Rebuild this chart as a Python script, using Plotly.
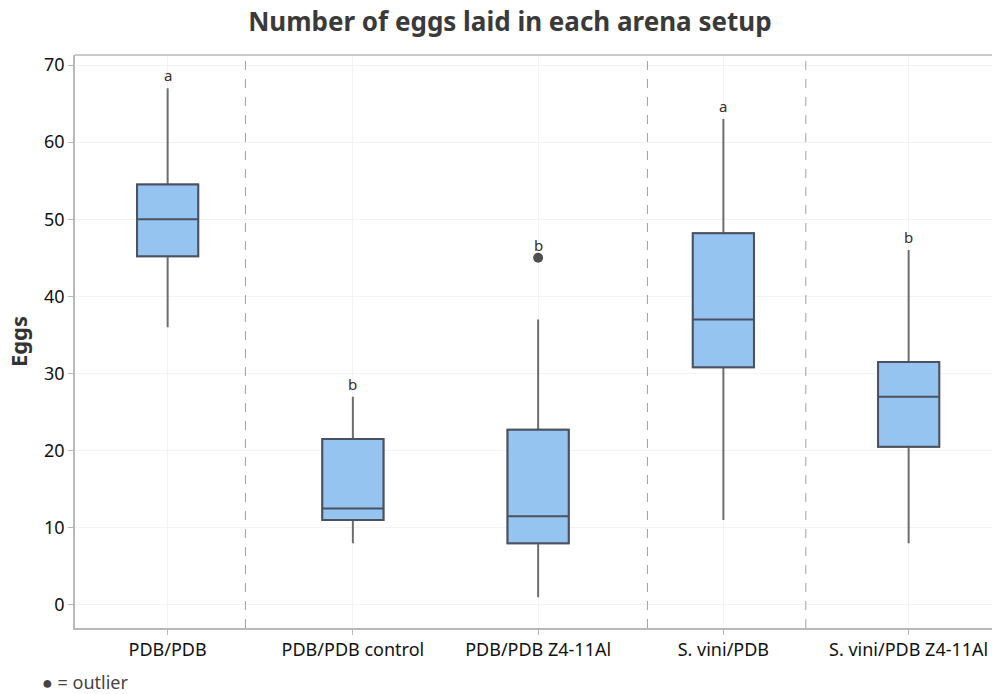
import plotly.graph_objects as go

categories = ["PDB/PDB", "PDB/PDB control", "PDB/PDB Z4-11Al", "S. vini/PDB", "S. vini/PDB Z4-11Al"]
lower_whisker = [36, 8, 1, 11, 8]
q1 = [45.2, 11, 8, 30.8, 20.5]
median = [50, 12.5, 11.5, 37, 27]
q3 = [54.5, 21.5, 22.7, 48.2, 31.5]
upper_whisker = [67, 27, 37, 63, 46]
outlier_cat = ["PDB/PDB Z4-11Al"]
outlier_val = [45]
letters = ["a", "b", "b", "a", "b"]
letter_base = [67, 27, 45, 63, 46]
separators = [0.42, 2.59, 3.445]

fig = go.Figure()
# whiskers (lighter grey)
fig.add_trace(go.Box(
    x=categories, q1=q1, median=median, q3=q3,
    lowerfence=lower_whisker, upperfence=upper_whisker,
    fillcolor="#94C4EF", line=dict(color="#6e6e6e", width=2),
    whiskerwidth=0, width=0.33, boxpoints=False, showlegend=False,
    hoverinfo="skip"))
# boxes (darker outline)
fig.add_trace(go.Box(
    x=categories, q1=q1, median=median, q3=q3,
    lowerfence=q1, upperfence=q3,
    fillcolor="#94C4EF", line=dict(color="#4b5160", width=2),
    whiskerwidth=0, width=0.33, boxpoints=False, showlegend=False,
    hoverinfo="skip"))
fig.add_trace(go.Scatter(
    x=outlier_cat, y=outlier_val, mode="markers",
    marker=dict(color="#505050", size=10), showlegend=False))

for c, l, b in zip(categories, letters, letter_base):
    fig.add_annotation(x=c, y=b, text=l, showarrow=False, yanchor="bottom",
                       yshift=1, font=dict(size=15, color="#3a2a2a", family="Noto Sans"))

for s in separators:
    fig.add_shape(type="line", xref="x", yref="paper", x0=s, x1=s, y0=0, y1=1,
                  line=dict(color="#a0a0a0", width=1, dash="dash"))
fig.add_shape(type="line", xref="paper", yref="paper", x0=0, x1=1, y0=1, y1=1,
              line=dict(color="#b8b8b8", width=1.5))

fig.add_annotation(xref="paper", yref="paper", x=-0.038, y=-0.094, xanchor="left",
                   yanchor="middle", showarrow=False, text="● = outlier",
                   font=dict(size=18, color="#444", family="Noto Sans"))

fig.update_layout(
    width=992, height=694, plot_bgcolor="white", paper_bgcolor="white",
    margin=dict(l=75, r=0, t=55, b=66, autoexpand=False),
    boxmode="overlay",
    font=dict(family="Noto Sans", color="#111"),
    title=dict(text="<b>Number of eggs laid in each arena setup</b>", x=0.514, xanchor="center",
               y=0.968, yanchor="middle", font=dict(size=26, color="#3a3a3a", family="Noto Sans")),
)
fig.update_xaxes(range=[-0.5, 4.45], showline=True, linecolor="#b8b8b8", linewidth=1.5,
                 showgrid=True, gridcolor="#f3f3f3", ticks="outside", ticklen=5,
                 tickcolor="#b8b8b8", tickfont=dict(size=18, color="#111"), automargin=False)
fig.update_yaxes(range=[-3, 71.3], tickvals=[0, 10, 20, 30, 40, 50, 60, 70],
                 showline=True, linecolor="#b8b8b8", linewidth=1.5,
                 showgrid=True, gridcolor="#f3f3f3", zeroline=False, ticks="outside",
                 ticklen=5, tickcolor="#b8b8b8", tickfont=dict(size=18, color="#111"),
                 automargin=False,
                 title=dict(text="<b>Eggs</b>", font=dict(size=22, color="#333"), standoff=10))

fig.write_html("out.html", config={"displayModeBar": False},
               post_script="document.body.style.margin='0';document.body.style.overflow='hidden';")
